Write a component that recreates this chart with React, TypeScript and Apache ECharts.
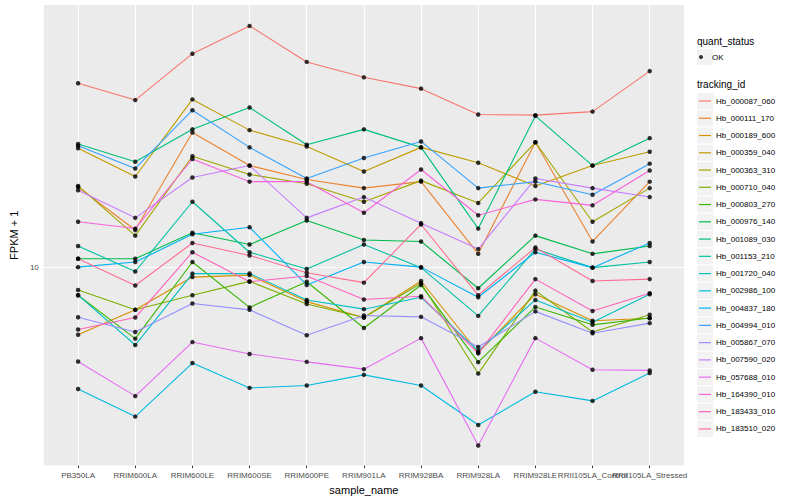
import React, { useEffect, useRef } from "react";
import * as echarts from "echarts";

const categories = [
  "PB350LA", "RRIM600LA", "RRIM600LE", "RRIM600SE", "RRIM600PE", "RRIM901LA",
  "RRIM928BA", "RRIM928LA", "RRIM928LE", "RRII105LA_Control", "RRII105LA_Stressed",
];

const trackingIds = [
  "Hb_000087_060", "Hb_000111_170", "Hb_000189_600", "Hb_000359_040", "Hb_000363_310",
  "Hb_000710_040", "Hb_000803_270", "Hb_000976_140", "Hb_001089_030", "Hb_001153_210",
  "Hb_001720_040", "Hb_002986_100", "Hb_004837_180", "Hb_004994_010", "Hb_005867_070",
  "Hb_007590_020", "Hb_057688_010", "Hb_164390_010", "Hb_183433_010", "Hb_183510_020",
];

const colors = [
  "#F8766D", "#EA8331", "#D89000", "#C09B00", "#A3A500", "#7CAE00", "#39B600", "#00BB4E",
  "#00BF7D", "#00C1A3", "#00BFC4", "#00BAE0", "#00B0F6", "#35A2FF", "#9590FF", "#C77CFF",
  "#E76BF3", "#FA62DB", "#FF62BC", "#FF6C91",
];

// FPKM + 1 values per gene, one per sample (in category order)
const hb000087_060 = [29.0, 26.3, 34.4, 40.4, 32.8, 30.0, 28.1, 24.2, 24.1, 24.6, 31.1];
const hb000111_170 = [15.9, 12.4, 21.8, 18.0, 16.6, 15.8, 16.4, 10.8, 20.6, 11.6, 16.4];
const hb000189_600 = [6.76, 7.81, 9.44, 9.55, 8.19, 7.47, 9.23, 6.10, 8.55, 7.33, 7.44];
const hb000359_040 = [19.9, 16.9, 26.4, 22.1, 20.1, 17.4, 20.0, 18.3, 16.0, 18.0, 19.5];
const hb000363_310 = [16.0, 12.0, 19.0, 17.1, 16.2, 14.6, 16.5, 14.5, 20.6, 13.0, 15.8];
const hb000710_040 = [8.76, 7.81, 8.50, 9.21, 8.08, 7.47, 9.11, 5.40, 8.73, 6.87, 7.59];
const hb000803_270 = [8.50, 6.61, 10.3, 7.92, 9.19, 7.03, 9.02, 5.77, 7.94, 7.16, 7.45];
const hb000976_140 = [10.5, 10.5, 12.2, 11.4, 13.1, 11.7, 11.6, 8.85, 12.0, 10.8, 11.3];
const hb001089_030 = [20.4, 18.4, 22.2, 25.2, 20.3, 22.2, 20.0, 12.5, 24.0, 18.0, 21.1];
const hb001153_210 = [11.3, 9.75, 14.6, 10.9, 9.89, 11.4, 9.97, 7.54, 11.1, 9.97, 10.3];
const hb001720_040 = [8.50, 6.37, 9.63, 9.64, 8.27, 7.84, 8.40, 6.16, 8.27, 7.27, 8.55];
const hb002986_100 = [4.94, 4.21, 5.74, 4.97, 5.04, 5.36, 5.04, 4.01, 4.86, 4.61, 5.42];
const hb004837_180 = [10.0, 10.3, 12.1, 12.6, 9.02, 10.3, 10.0, 8.40, 10.9, 9.97, 11.5];
const hb004994_010 = [20.2, 17.7, 24.8, 20.0, 16.7, 18.8, 20.7, 15.8, 16.4, 15.2, 18.2];
const hb005867_070 = [7.48, 6.87, 8.10, 7.81, 6.74, 7.56, 7.50, 6.30, 7.74, 6.82, 7.23];
const hb007590_020 = [15.6, 13.3, 16.8, 18.0, 13.3, 15.0, 12.9, 11.1, 16.7, 15.8, 15.0];
const hb057688_010 = [5.79, 4.74, 6.48, 6.05, 5.78, 5.54, 6.63, 3.56, 6.63, 5.52, 5.50];
const hb164390_010 = [13.0, 12.5, 18.7, 16.4, 16.4, 13.7, 17.6, 13.5, 14.8, 14.3, 17.5];
const hb183433_010 = [6.97, 7.47, 10.9, 9.19, 9.50, 8.29, 8.45, 6.07, 9.33, 7.76, 8.60];
const hb183510_020 = [10.5, 8.99, 11.5, 10.7, 9.68, 9.14, 12.8, 8.50, 11.2, 9.23, 9.33];

const seriesValues = [
  hb000087_060, hb000111_170, hb000189_600, hb000359_040, hb000363_310,
  hb000710_040, hb000803_270, hb000976_140, hb001089_030, hb001153_210,
  hb001720_040, hb002986_100, hb004837_180, hb004994_010, hb005867_070,
  hb007590_020, hb057688_010, hb164390_010, hb183433_010, hb183510_020,
];

const yTicks = [10];
const yMin = 3.17;
const yMax = 45.6;

export default function App() {
  const ref = useRef<HTMLDivElement>(null);

  useEffect(() => {
    if (!ref.current) return;
    const chart = echarts.init(ref.current, null, { renderer: "svg" });
    const font = "Liberation Sans, Arial, Helvetica, sans-serif";
    const idx = categories.map((_, i) => i);
    const lastIdx = categories.length - 1;

    const lineSeries = trackingIds.map((name, s) => ({
      name,
      type: "line",
      data: seriesValues[s].map((v, i) => [i, v]),
      showSymbol: false,
      symbol: "none",
      lineStyle: { color: colors[s], width: 1.1 },
      itemStyle: { color: colors[s] },
      z: 2,
    }));

    const points: number[][] = [];
    seriesValues.forEach((arr) => arr.forEach((v, i) => points.push([i, v])));

    const legendCenter0 = 101;
    const legendStep = 17.26;

    const keyRects = trackingIds.map((_, i) => ({
      type: "rect",
      shape: { x: 697, y: legendCenter0 + i * legendStep - 8, width: 16, height: 16 },
      style: { fill: "#F2F2F2" },
      z: 0,
    }));

    const labelStyle = {
      formatter: (v: number) => categories[Math.round(v)] ?? "",
      fontSize: 8,
      color: "#4D4D4D",
      margin: 5.5,
      fontFamily: font,
      showMinLabel: true,
      showMaxLabel: true,
      hideOverlap: false,
    };

    chart.setOption({
      animation: false,
      backgroundColor: "#FFFFFF",
      textStyle: { fontFamily: font },
      grid: {
        left: 35,
        right: 116,
        top: 5,
        bottom: 31.7,
        show: true,
        backgroundColor: "#EBEBEB",
        borderWidth: 0,
      },
      xAxis: [
        {
          type: "value",
          min: -0.6,
          max: 10.6,
          name: "sample_name",
          nameLocation: "middle",
          nameGap: 18,
          nameTextStyle: { fontSize: 11, color: "#000000", fontFamily: font },
          axisLine: { show: false },
          axisTick: { show: true, length: 2.5, lineStyle: { color: "#333333", width: 1 }, customValues: idx },
          axisLabel: { ...labelStyle, customValues: idx.slice(0, lastIdx) },
          splitLine: { show: true, lineStyle: { color: "#FFFFFF", width: 1.1 } },
        },
        {
          type: "value",
          gridIndex: 0,
          position: "bottom",
          min: -0.6,
          max: 10.6,
          axisLine: { show: false },
          axisTick: { show: false },
          axisLabel: { ...labelStyle, customValues: [lastIdx] },
          splitLine: { show: false },
        },
      ],
      yAxis: {
        type: "log",
        logBase: 10,
        min: yMin,
        max: yMax,
        name: "FPKM + 1",
        nameLocation: "middle",
        nameGap: 17,
        nameRotate: 90,
        nameTextStyle: { fontSize: 11, color: "#000000", fontFamily: font },
        axisLine: { show: false },
        axisTick: { show: true, length: 2.5, lineStyle: { color: "#333333", width: 1 }, customValues: yTicks },
        axisLabel: {
          customValues: yTicks,
          fontSize: 8,
          color: "#4D4D4D",
          margin: 5,
          fontFamily: font,
        },
        splitLine: { show: true, lineStyle: { color: "#FFFFFF", width: 1.1 } },
        minorSplitLine: { show: false },
      },
      legend: [
        {
          data: [{ name: "OK", icon: "circle", itemStyle: { color: "#000000" } }],
          orient: "vertical",
          left: 699,
          top: 49,
          padding: 0,
          itemWidth: 12,
          itemHeight: 4,
          textStyle: { fontSize: 8, color: "#000000", fontFamily: font, lineHeight: 16 },
          selectedMode: false,
        },
        {
          data: trackingIds.map((n, i) => ({ name: n, icon: "rect", itemStyle: { color: colors[i] } })),
          orient: "vertical",
          left: 699,
          top: legendCenter0 - 8,
          padding: 0,
          itemWidth: 12,
          itemHeight: 1.2,
          itemGap: legendStep - 16,
          textStyle: { fontSize: 8, color: "#000000", fontFamily: font, lineHeight: 16 },
          selectedMode: false,
        },
      ],
      graphic: [
        { type: "rect", shape: { x: 697, y: 49, width: 16, height: 16 }, style: { fill: "#F2F2F2" }, z: 0 },
        ...keyRects,
        {
          type: "text",
          x: 697,
          y: 41,
          style: { text: "quant_status", fontSize: 10, fill: "#000000", font: `10px ${font}`, verticalAlign: "middle" },
        },
        {
          type: "text",
          x: 697,
          y: 84.5,
          style: { text: "tracking_id", fontSize: 10, fill: "#000000", font: `10px ${font}`, verticalAlign: "middle" },
        },
      ],
      series: [
        ...lineSeries,
        {
          name: "OK",
          type: "scatter",
          data: points,
          symbol: "circle",
          symbolSize: 4.5,
          itemStyle: { color: "#000000" },
          z: 3,
        },
      ],
    });

    return () => chart.dispose();
  }, []);

  return <div ref={ref} style={{ position: "fixed", left: 0, top: 0, width: 800, height: 500 }} />;
}
